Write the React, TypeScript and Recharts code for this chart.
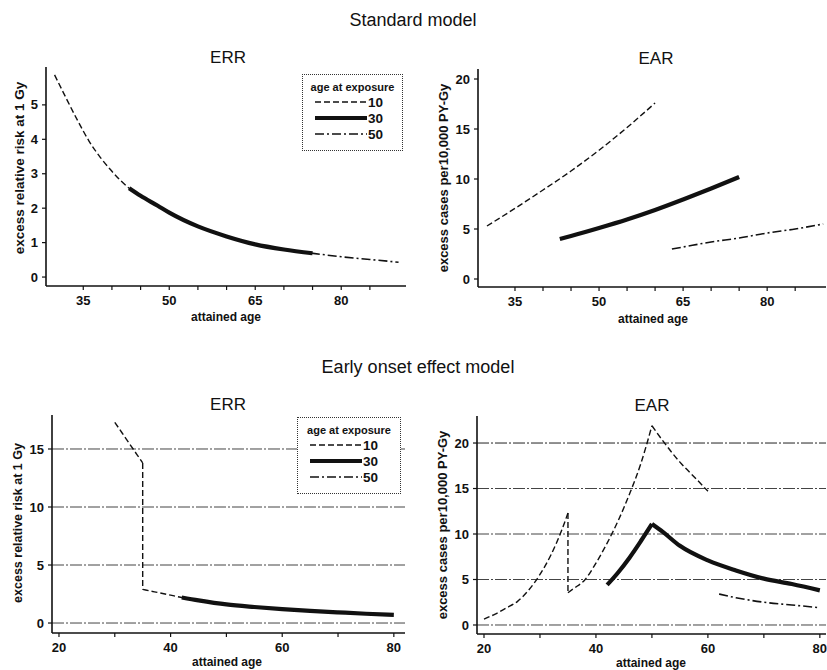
import { LineChart, Line, XAxis, YAxis, ReferenceLine } from "recharts";

const FONT = '"Liberation Sans", Arial, Helvetica, sans-serif';
const INK = "#111";

interface Pt {
  x: number;
  y: number;
}

// Standard model, ERR (same curve for every age at exposure)
const stdErrAge10: Pt[] = [
  { x: 30, y: 5.87 }, { x: 32, y: 5.2 }, { x: 34, y: 4.55 }, { x: 36, y: 3.95 },
  { x: 38, y: 3.47 }, { x: 40, y: 3.07 }, { x: 43, y: 2.58 }, { x: 45, y: 2.36 },
  { x: 48, y: 2.07 }, { x: 50, y: 1.87 }, { x: 55, y: 1.47 }, { x: 60, y: 1.18 },
];
const stdErrAge30: Pt[] = [
  { x: 43, y: 2.58 }, { x: 45, y: 2.36 }, { x: 48, y: 2.07 }, { x: 50, y: 1.87 },
  { x: 55, y: 1.47 }, { x: 60, y: 1.18 }, { x: 65, y: 0.95 }, { x: 70, y: 0.8 },
  { x: 75, y: 0.69 },
];
const stdErrAge50: Pt[] = [
  { x: 63, y: 1.02 }, { x: 65, y: 0.95 }, { x: 70, y: 0.8 }, { x: 75, y: 0.69 },
  { x: 80, y: 0.59 }, { x: 85, y: 0.51 }, { x: 90, y: 0.43 },
];

// Standard model, EAR
const stdEarAge10: Pt[] = [
  { x: 30, y: 5.3 }, { x: 35, y: 7.06 }, { x: 40, y: 8.9 }, { x: 45, y: 10.8 },
  { x: 50, y: 12.88 }, { x: 55, y: 15.15 }, { x: 60, y: 17.6 },
];
const stdEarAge30: Pt[] = [
  { x: 43, y: 4.0 }, { x: 45, y: 4.3 }, { x: 50, y: 5.1 }, { x: 55, y: 5.95 },
  { x: 60, y: 6.9 }, { x: 65, y: 7.95 }, { x: 70, y: 9.05 }, { x: 75, y: 10.2 },
];
const stdEarAge50: Pt[] = [
  { x: 63, y: 3.0 }, { x: 65, y: 3.2 }, { x: 70, y: 3.7 }, { x: 75, y: 4.1 },
  { x: 80, y: 4.6 }, { x: 85, y: 5.0 }, { x: 90, y: 5.5 },
];

// Early onset effect model, ERR
const earlyErrAge10: Pt[] = [
  { x: 30, y: 17.3 }, { x: 32, y: 15.9 }, { x: 34, y: 14.5 }, { x: 35, y: 13.8 },
  { x: 35, y: 2.9 }, { x: 38, y: 2.6 }, { x: 40, y: 2.4 }, { x: 42, y: 2.2 },
  { x: 45, y: 1.95 }, { x: 50, y: 1.6 }, { x: 55, y: 1.38 }, { x: 60, y: 1.2 },
];
const earlyErrAge30: Pt[] = [
  { x: 42, y: 2.2 }, { x: 45, y: 1.95 }, { x: 50, y: 1.6 }, { x: 55, y: 1.38 },
  { x: 60, y: 1.2 }, { x: 65, y: 1.05 }, { x: 70, y: 0.92 }, { x: 75, y: 0.8 },
  { x: 80, y: 0.7 },
];
const earlyErrAge50: Pt[] = [
  { x: 62, y: 1.13 }, { x: 65, y: 1.05 }, { x: 70, y: 0.92 }, { x: 75, y: 0.8 },
  { x: 80, y: 0.7 },
];

// Early onset effect model, EAR
const earlyEarAge10: Pt[] = [
  { x: 20, y: 0.65 }, { x: 22, y: 1.2 }, { x: 24, y: 1.87 }, { x: 26, y: 2.6 },
  { x: 28, y: 3.85 }, { x: 30, y: 5.55 }, { x: 32, y: 7.75 }, { x: 34, y: 10.6 },
  { x: 35, y: 12.3 }, { x: 35, y: 3.55 }, { x: 36, y: 4.0 }, { x: 38, y: 4.95 },
  { x: 40, y: 6.8 }, { x: 42, y: 9.0 }, { x: 44, y: 11.5 }, { x: 46, y: 14.4 },
  { x: 48, y: 17.7 }, { x: 50, y: 21.9 }, { x: 52, y: 20.2 }, { x: 55, y: 17.9 },
  { x: 58, y: 16.0 }, { x: 60, y: 14.7 },
];
const earlyEarAge30: Pt[] = [
  { x: 42, y: 4.4 }, { x: 44, y: 5.8 }, { x: 46, y: 7.4 }, { x: 48, y: 9.2 },
  { x: 50, y: 11.1 }, { x: 52, y: 10.2 }, { x: 55, y: 8.7 }, { x: 60, y: 7.1 },
  { x: 65, y: 6.0 }, { x: 70, y: 5.1 }, { x: 75, y: 4.5 }, { x: 80, y: 3.8 },
];
const earlyEarAge50: Pt[] = [
  { x: 62, y: 3.4 }, { x: 65, y: 3.0 }, { x: 70, y: 2.5 }, { x: 75, y: 2.2 },
  { x: 80, y: 1.9 },
];

const stdXTicks = [35, 40, 45, 50, 55, 60, 65, 70, 75, 80, 85];
const stdXLabels = [35, 50, 65, 80];
const earlyXTicks = [20, 30, 40, 50, 60, 70, 80];
const earlyXLabels = [20, 40, 60, 80];
const stdErrYTicks = [0, 1, 2, 3, 4, 5];
const stdEarYTicks = [0, 5, 10, 15, 20];
const earlyErrYTicks = [0, 5, 10, 15];
const earlyEarYTicks = [0, 5, 10, 15, 20];

const ageLabels = ["10", "30", "50"];

const STYLES = [
  { strokeWidth: 1.4, dash: "6 3" },
  { strokeWidth: 4.2, dash: undefined },
  { strokeWidth: 1.6, dash: "9 3 2 3" },
];

// break a series at the jumps (x repeats) and at peaks, so each piece is smoothed
// on its own and the corners stay sharp
function pieces(data: Pt[]): { data: Pt[]; jump: boolean }[] {
  const out: { data: Pt[]; jump: boolean }[] = [];
  let cur: Pt[] = [data[0]];
  for (let i = 1; i < data.length; i++) {
    const prev = data[i - 1];
    const pt = data[i];
    if (pt.x === prev.x) {
      out.push({ data: cur, jump: false });
      out.push({ data: [prev, pt], jump: true });
      cur = [pt];
      continue;
    }
    cur.push(pt);
    const next = data[i + 1];
    if (next && next.x !== pt.x && (pt.y - prev.y) * (next.y - pt.y) < 0) {
      out.push({ data: cur, jump: false });
      cur = [pt];
    }
  }
  out.push({ data: cur, jump: false });
  return out;
}

interface PanelProps {
  plot: { x: number; y: number; w: number; h: number };
  xDomain: [number, number];
  yDomain: [number, number];
  xTicks: number[];
  xLabels: number[];
  yTicks: number[];
  grid?: boolean;
  series: { data: Pt[]; style: number }[];
}

function Panel({ plot, xDomain, yDomain, xTicks, xLabels, yTicks, grid, series }: PanelProps) {
  const YW = 45;
  const XH = 30;
  const MT = 5;
  const MR = 1;
  const tick = { fill: INK, fontSize: 13, fontWeight: 700, fontFamily: FONT };
  return (
    <div style={{ position: "absolute", left: plot.x - YW, top: plot.y - MT }}>
      <LineChart
        width={YW + plot.w + MR}
        height={MT + plot.h + XH}
        margin={{ top: MT, right: MR, bottom: 0, left: 0 }}
      >
        <XAxis
          type="number"
          dataKey="x"
          domain={xDomain}
          ticks={xTicks}
          interval={0}
          allowDataOverflow
          height={XH}
          tickSize={4}
          tickMargin={6}
          tickFormatter={(v: number) => (xLabels.includes(v) ? String(v) : "")}
          tick={tick}
          axisLine={{ stroke: INK, strokeWidth: 1.6 }}
          tickLine={{ stroke: INK, strokeWidth: 1.2 }}
        />
        <YAxis
          type="number"
          domain={yDomain}
          ticks={yTicks}
          interval={0}
          allowDataOverflow
          width={YW}
          tickSize={4}
          tickMargin={4}
          tick={tick}
          axisLine={{ stroke: INK, strokeWidth: 1.6 }}
          tickLine={{ stroke: INK, strokeWidth: 1.2 }}
        />
        {grid &&
          yTicks.map((v) => (
            <ReferenceLine
              key={"g" + v}
              y={v}
              stroke={v === 20 ? "#222" : "#444"}
              strokeWidth={1}
              strokeDasharray="12 2 2 2"
            />
          ))}
        {series.flatMap((s, i) =>
          pieces(s.data).map((p, j) => (
            <Line
              key={i + "-" + j}
              data={p.data}
              dataKey="y"
              type={p.jump ? "linear" : "monotone"}
              stroke={INK}
              strokeWidth={STYLES[s.style].strokeWidth}
              strokeDasharray={STYLES[s.style].dash}
              dot={false}
              activeDot={false}
              isAnimationActive={false}
            />
          ))
        )}
      </LineChart>
    </div>
  );
}

function AgeLegend({ x, y, w, h }: { x: number; y: number; w: number; h: number }) {
  return (
    <div
      style={{
        position: "absolute",
        left: x,
        top: y,
        width: w,
        height: h,
        background: "#fff",
        border: "1px dotted #333",
        boxSizing: "border-box",
        fontFamily: FONT,
        color: INK,
      }}
    >
      <div style={{ fontSize: 11, fontWeight: 700, textAlign: "center", marginTop: 5, lineHeight: "14px" }}>
        age at exposure
      </div>
      {ageLabels.map((lab, i) => (
        <div key={lab} style={{ display: "flex", alignItems: "center", height: 16, marginLeft: 12 }}>
          <svg width={52} height={8}>
            <line
              x1={0}
              x2={52}
              y1={4}
              y2={4}
              stroke={INK}
              strokeWidth={STYLES[i].strokeWidth}
              strokeDasharray={STYLES[i].dash}
            />
          </svg>
          <span style={{ fontSize: 13.5, fontWeight: 700, marginLeft: 1 }}>{lab}</span>
        </div>
      ))}
    </div>
  );
}

function Txt({ x, y, size, bold, rotate, children }: any) {
  return (
    <div
      style={{
        position: "absolute",
        left: x,
        top: y,
        transform: `translate(-50%, -50%)${rotate ? " rotate(-90deg)" : ""}`,
        whiteSpace: "nowrap",
        fontFamily: FONT,
        fontSize: size,
        fontWeight: bold ? 700 : 400,
        color: INK,
        lineHeight: 1,
      }}
    >
      {children}
    </div>
  );
}

export default function App() {
  return (
    <div style={{ position: "absolute", left: 0, top: 0, width: 827, height: 670, background: "#fff", overflow: "hidden" }}>
      <Txt x={413} y={20} size={18}>Standard model</Txt>
      <Txt x={418} y={367} size={18}>Early onset effect model</Txt>

      <Txt x={228} y={57} size={17}>ERR</Txt>
      <Txt x={656} y={58} size={17}>EAR</Txt>
      <Txt x={228} y={404} size={17}>ERR</Txt>
      <Txt x={652} y={405} size={17}>EAR</Txt>

      <Panel
        plot={{ x: 46, y: 67, w: 360, h: 219 }}
        xDomain={[28.5, 91.3]}
        yDomain={[-0.26, 6.1]}
        xTicks={stdXTicks}
        xLabels={stdXLabels}
        yTicks={stdErrYTicks}
        series={[
          { data: stdErrAge10, style: 0 },
          { data: stdErrAge50, style: 2 },
          { data: stdErrAge30, style: 1 },
        ]}
      />
      <Panel
        plot={{ x: 478, y: 69, w: 348, h: 218 }}
        xDomain={[28.4, 90.5]}
        yDomain={[-0.8, 21]}
        xTicks={stdXTicks}
        xLabels={stdXLabels}
        yTicks={stdEarYTicks}
        series={[
          { data: stdEarAge10, style: 0 },
          { data: stdEarAge30, style: 1 },
          { data: stdEarAge50, style: 2 },
        ]}
      />
      <Panel
        plot={{ x: 52, y: 415, w: 353, h: 218 }}
        xDomain={[18.75, 82]}
        yDomain={[-0.86, 17.93]}
        xTicks={earlyXTicks}
        xLabels={earlyXLabels}
        yTicks={earlyErrYTicks}
        grid
        series={[
          { data: earlyErrAge10, style: 0 },
          { data: earlyErrAge50, style: 2 },
          { data: earlyErrAge30, style: 1 },
        ]}
      />
      <Panel
        plot={{ x: 477, y: 416, w: 349, h: 218 }}
        xDomain={[18.75, 81.1]}
        yDomain={[-0.99, 22.97]}
        xTicks={earlyXTicks}
        xLabels={earlyXLabels}
        yTicks={earlyEarYTicks}
        grid
        series={[
          { data: earlyEarAge10, style: 0 },
          { data: earlyEarAge30, style: 1 },
          { data: earlyEarAge50, style: 2 },
        ]}
      />

      <AgeLegend x={302} y={74} w={101} h={77} />
      <AgeLegend x={297} y={417} w={104} h={77} />

      <Txt x={20} y={168} size={13.5} bold rotate>excess relative risk at 1 Gy</Txt>
      <Txt x={443} y={178} size={13} bold rotate>excess cases per10,000 PY-Gy</Txt>
      <Txt x={18} y={523} size={12.5} bold rotate>excess relative risk at 1 Gy</Txt>
      <Txt x={442} y={525} size={13} bold rotate>excess cases per10,000 PY-Gy</Txt>

      <Txt x={226} y={317} size={12} bold>attained age</Txt>
      <Txt x={653} y={319} size={12} bold>attained age</Txt>
      <Txt x={227} y={662} size={12} bold>attained age</Txt>
      <Txt x={651} y={663} size={12} bold>attained age</Txt>
    </div>
  );
}
